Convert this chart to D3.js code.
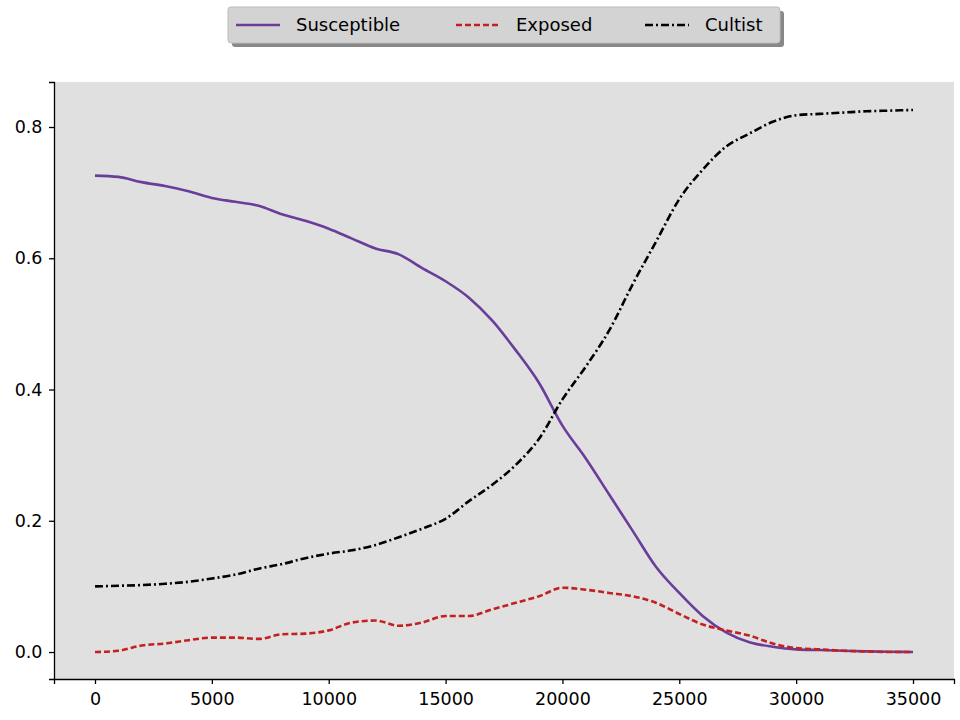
<!DOCTYPE html>
<html><head><meta charset="utf-8">
<script src="https://cdn.jsdelivr.net/npm/d3@7"></script>
<style>body{margin:0;background:#fff}text{font-family:"DejaVu Sans",sans-serif}</style>
</head><body><svg id="c" width="960" height="720"></svg>
<script>
var steps = [0,1000,2000,3000,4000,5000,6000,7000,8000,9000,10000,11000,12000,13000,14000,15000,16000,17000,18000,19000,20000,21000,22000,23000,24000,25000,26000,27000,28000,29000,30000,31000,32000,33000,34000,35000];
var susceptible = [0.726,0.724,0.716,0.710,0.702,0.692,0.686,0.680,0.667,0.657,0.645,0.630,0.615,0.606,0.585,0.565,0.540,0.505,0.460,0.410,0.345,0.295,0.240,0.185,0.130,0.090,0.055,0.030,0.015,0.008,0.004,0.003,0.002,0.001,0.0005,0];
var exposed = [0,0.002,0.010,0.013,0.018,0.022,0.022,0.020,0.027,0.028,0.033,0.045,0.048,0.040,0.045,0.055,0.055,0.065,0.075,0.085,0.098,0.095,0.090,0.085,0.075,0.058,0.042,0.033,0.025,0.013,0.006,0.004,0.002,0.001,0,0];
var cultist = [0.100,0.101,0.102,0.104,0.107,0.112,0.118,0.127,0.134,0.143,0.150,0.155,0.163,0.175,0.188,0.203,0.230,0.255,0.285,0.325,0.385,0.435,0.490,0.560,0.625,0.690,0.735,0.770,0.790,0.808,0.818,0.820,0.822,0.824,0.825,0.826];
var xTicks = [0,5000,10000,15000,20000,25000,30000,35000];
var yTicks = [0,0.2,0.4,0.6,0.8];
var series = [
  {name:"Susceptible", vals:susceptible, color:"#6a3d9a", dash:null},
  {name:"Exposed", vals:exposed, color:"#c42020", dash:"6,3"},
  {name:"Cultist", vals:cultist, color:"#000", dash:"8,3,2,3"}
];

var svg = d3.select("#c");
var L=54, R=954, T=82, B=679;
var x = d3.scaleLinear().domain([-1754,36754]).range([L,R]);
var y = d3.scaleLinear().domain([-0.0411,0.8686]).range([B,T]);

svg.append("rect").attr("x",L).attr("y",T).attr("width",R-L).attr("height",B-T).attr("fill","#e0e0e0");

var line = d3.line().x(function(d,i){return x(steps[i]);}).y(function(d){return y(d);}).curve(d3.curveMonotoneX);
series.forEach(function(s){
  svg.append("path").datum(s.vals).attr("d",line).attr("fill","none")
    .attr("stroke",s.color).attr("stroke-width",2.6).attr("stroke-dasharray",s.dash);
});

var xa = svg.append("g").attr("transform","translate(0,"+B+")")
  .call(d3.axisBottom(x).tickValues(xTicks).tickFormat(d3.format("d")).tickSizeOuter(0).tickSize(5));
var ya = svg.append("g").attr("transform","translate("+L+",0)")
  .call(d3.axisLeft(y).tickValues(yTicks).tickFormat(d3.format(".1f")).tickSizeOuter(0).tickSize(5));
[xa,ya].forEach(function(a){
  a.selectAll("text").attr("font-size",17.5).attr("fill","#000");
  a.selectAll("line").attr("stroke","#000").attr("stroke-width",1.3);
  a.select(".domain").attr("stroke","#000").attr("stroke-width",1.3);
});
xa.selectAll("text").attr("dy","1.05em");
ya.selectAll("text").attr("dx","-0.2em");

// legend
var lg = svg.append("g");
lg.append("rect").attr("x",232).attr("y",11).attr("width",552).attr("height",36).attr("fill","#888").attr("rx",3);
lg.append("rect").attr("x",228).attr("y",7).attr("width",552).attr("height",36).attr("fill","#d3d3d3").attr("stroke","#bbb").attr("rx",3);
var lx = [236,456,645];
series.forEach(function(s,i){
  lg.append("line").attr("x1",lx[i]).attr("x2",lx[i]+44).attr("y1",25).attr("y2",25)
    .attr("stroke",s.color).attr("stroke-width",2.6).attr("stroke-dasharray",s.dash);
  lg.append("text").attr("x",lx[i]+60).attr("y",31).attr("font-size",18).text(s.name);
});
</script></body></html>
